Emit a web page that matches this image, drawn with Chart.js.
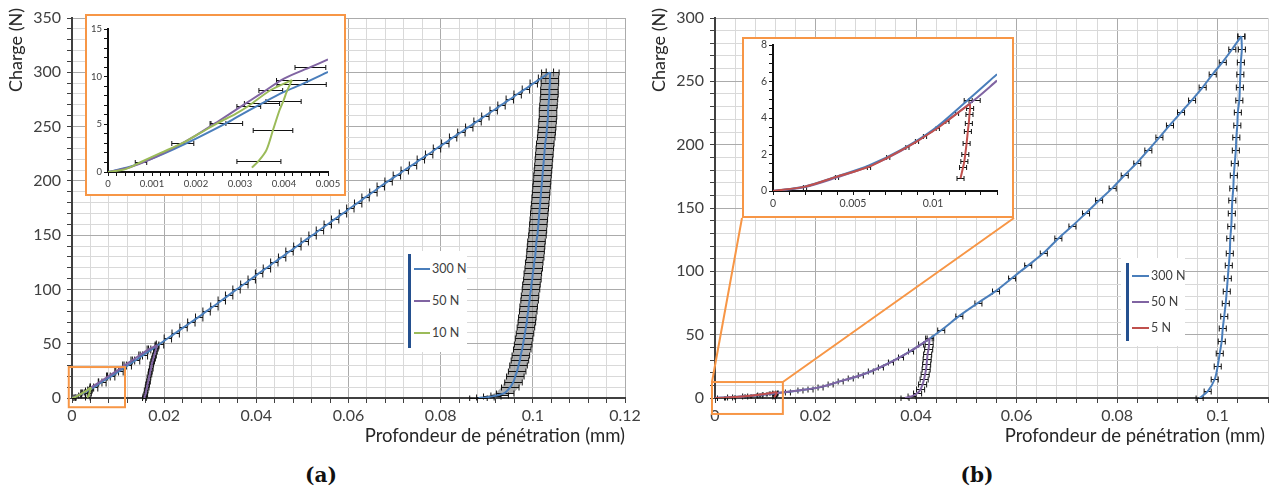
<!DOCTYPE html>
<html>
<head>
<meta charset="utf-8">
<script src="https://cdn.jsdelivr.net/npm/chart.js@4.4.1/dist/chart.umd.min.js"></script>
<style>
body { margin: 0; background: #fff; font-family: Lato, 'Open Sans', sans-serif; }
#page { position: relative; width: 1277px; height: 491px; overflow: hidden; background: #fff; }
canvas { position: absolute; }
.inset { position: absolute; background: #fff; border: 2px solid #F79646; box-sizing: border-box; }
.inset canvas { left: 0; top: 0; }
.legend { position: absolute; background: #fff; }
.legend .bar { position: absolute; width: 3px; background: #24508f; }
.legend .item { position: absolute; height: 16px; line-height: 16px; font-size: 12.5px; color: #404040; white-space: nowrap; }
.legend .sw { position: absolute; top: 7px; height: 2px; }
.ytitle { position: absolute; font-size: 18px; color: #262626; white-space: nowrap; transform: translate(-50%, -50%) rotate(-90deg); }
.xtitle { position: absolute; font-size: 18.5px; color: #262626; white-space: nowrap; }
.cap { position: absolute; font-family: 'DejaVu Serif', serif; font-weight: bold; font-size: 20px; color: #111; transform: translateX(-50%); }
</style>
</head>
<body>
<div id="page">
  <canvas id="mainA" width="640" height="460" style="left:0;top:0"></canvas>
  <canvas id="mainB" width="637" height="460" style="left:640px;top:0"></canvas>

  <div class="inset" id="insetA" style="left:85px;top:14px;width:261px;height:182px">
    <canvas id="chartInsetA" width="257" height="178"></canvas>
  </div>
  <div class="inset" id="insetB" style="left:742px;top:37px;width:272px;height:181px">
    <canvas id="chartInsetB" width="268" height="177"></canvas>
  </div>

  <div class="legend" id="legA" style="left:404px;top:251px;width:63px;height:101px"></div>
  <div class="legend" id="legB" style="left:1121px;top:258px;width:64px;height:88px"></div>

  <div class="ytitle" style="left:15px;top:50px">Charge (N)</div>
  <div class="ytitle" style="left:658px;top:50px">Charge (N)</div>
  <div class="xtitle" style="right:652px;top:424px">Profondeur de pénétration (mm)</div>
  <div class="xtitle" style="right:12px;top:424px">Profondeur de pénétration (mm)</div>
  <div class="cap" style="left:321px;top:463px">(a)</div>
  <div class="cap" style="left:977px;top:463px">(b)</div>
</div>

<script>
// ---- colours (Excel theme) ----
const blue = '#4A7EBB';
const purple = '#8064A2';
const green = '#9BBB59';
const red = '#C0504D';

// ---- (a) 300 N ----
const a300LoadX = [0,0.0027,0.0048,0.0066,0.0085,0.0103,0.0121,0.0139,0.0156,0.0174,
  0.0191,0.0208,0.0225,0.0242,0.0259,0.0276,0.0292,0.0309,0.0325,0.0341,
  0.0357,0.0374,0.0390,0.0406,0.0423,0.0439,0.0456,0.0472,0.0489,0.0505,
  0.0522,0.0538,0.0555,0.0571,0.0588,0.0604,0.0621,0.0637,0.0654,0.0670,
  0.0687,0.0705,0.0722,0.0740,0.0757,0.0775,0.0792,0.0810,0.0827,0.0845,
  0.0862,0.0880,0.0897,0.0915,0.0932,0.0950,0.0967,0.0985,0.1002,0.1020,
  0.1037];
const a300LoadY = [0,5,10,15,20,25,30,35,40,45,50,55,60,65,70,75,80,85,90,95,
  100,105,110,115,120,125,130,135,140,145,150,155,160,165,170,175,180,185,190,195,
  200,205,210,215,220,225,230,235,240,245,250,255,260,265,270,275,280,285,290,295,300];
const a300UnloadX = [0.1038,0.1037,0.1037,0.1036,0.1036,0.1035,0.1034,0.1033,0.1033,0.1032,
  0.1031,0.1030,0.1029,0.1027,0.1026,0.1025,0.1024,0.1023,0.1022,0.1021,
  0.1020,0.1019,0.1018,0.1017,0.1016,0.1015,0.1014,0.1013,0.1012,0.1011,
  0.1010,0.1008,0.1007,0.1006,0.1005,0.1003,0.1002,0.1000,0.0999,0.0997,
  0.0996,0.0994,0.0993,0.0991,0.0990,0.0988,0.0987,0.0985,0.0983,0.0981,
  0.0979,0.0977,0.0974,0.0972,0.0969,0.0966,0.0962,0.0958,0.0951,0.0940,
  0.0928,0.0912,0.0897,0.0882];
const a300UnloadY = [300,295,290,285,280,275,270,265,260,255,250,245,240,235,230,225,220,215,210,205,
  200,195,190,185,180,175,170,165,160,155,150,145,140,135,130,125,120,115,110,105,
  100,95,90,85,80,75,70,65,60,55,50,45,40,35,30,25,20,15,10,5,3,1.5,0.5,0];
const a300LoadErr = 0.0008;
const a300UnloadErr = 0.0019;

// ---- (a) 50 N ----
const a50LoadX = [0,0.0025,0.0043,0.0061,0.0079,0.0097,0.0114,0.0132,0.0149,0.0167,0.01845];
const a50LoadY = [0,5,10,15,20,25,30,35,40,45,48.8];
const a50UnloadX = [0.01845,0.0183,0.0181,0.0179,0.0177,0.0175,0.0173,0.0172,0.0170,0.0169,0.0167,0.0166,0.0164,0.0163,0.0161,0.0160,0.0158,0.0157];
const a50UnloadY = [48.8,46,43,40,37,34,31,28,25,22,19,16,13,10,7,4,2,0];
const a50Err = 0.0004;

// ---- (a) 10 N (main + inset) ----
const a10LoadX = [0,0.0004,0.00075,0.0012,0.0017,0.0021,0.0025,0.0029,0.0032,0.0037,0.00418];
const a10LoadY = [0,0.3,1.05,2.0,3.05,4.1,5.15,6.1,6.95,8.6,9.64];
const a10LoadErr = [0,0,0.00013,0,0.00025,0,0.00018,0,0.00027,0.00027,0.00035];
const a10UnloadX = [0.00418,0.00406,0.00399,0.0039,0.00375,0.0036,0.00343,0.00327];
const a10UnloadY = [9.64,8.4,7.5,6.5,4.4,2.3,1.2,0.46];
const a10UnloadErr = [0,0,0.0004,0,0.00045,0,0.0005,0];

// ---- inset (a) 300 N and 50 N ----
const ia300X = [0,0.0005,0.001,0.0015,0.002,0.0027,0.003,0.0035,0.004,0.0044,0.005];
const ia300Y = [0,0.55,1.4,2.4,3.5,5.15,5.95,7.2,8.4,9.2,10.5];
const ia300Err = [0,0,0,0,0,0.00036,0,0.0004,0,0.00056,0];
const ia50X = [0,0.0005,0.001,0.0015,0.002,0.0025,0.003,0.0035,0.004,0.0046,0.005];
const ia50Y = [0,0.5,1.4,2.55,3.85,5.3,6.8,8.3,9.8,11.0,11.8];
const ia50Err = [0,0,0,0,0,0,0,0,0,0.00035,0];

// ---- (b) 300 N ----
const b300LoadX = [0,0.006,0.012,0.017,0.021,0.025,0.029,0.033,0.037,0.041,
  0.045,0.0486,0.0524,0.0559,0.0591,0.0623,0.0654,0.0683,0.0711,0.0738,
  0.0764,0.0791,0.0815,0.084,0.0862,0.0884,0.0905,0.0927,0.0949,0.097,
  0.099,0.101,0.1029,0.1047];
const b300LoadY = [0,1.3,3.8,6.2,8.6,13.3,18.0,24.5,32.6,42.3,
  53.5,64.8,75.3,84.6,94.8,104.7,114.6,126.0,135.9,146.1,
  156.0,165.9,176.0,185.9,195.8,205.7,215.6,225.5,235.4,245.3,
  255.7,265.4,275.5,285.7];
const b300LoadErr = [0,0,0,0,0,0,0,0,0,0,
  0.0007,0.0007,0.0007,0.0007,0.0007,0.0007,0.0007,0.0007,0.0007,0.0007,
  0.0007,0.0007,0.0007,0.0007,0.0007,0.0007,0.0007,0.0007,0.0007,0.0007,
  0.0007,0.0007,0.0007,0.0007];
const b300UnloadX = [0.1047,0.1048,0.1046,0.1045,0.1044,0.1043,0.1040,0.1039,0.1037,0.1036,
  0.1034,0.1032,0.1031,0.1029,0.1028,0.1027,0.1025,0.1024,0.1022,0.1020,
  0.1018,0.1016,0.1013,0.1010,0.1008,0.1004,0.1000,0.0994,0.0980,0.0964];
const b300UnloadY = [285.7,275.3,265.4,255.7,245.3,235.4,225.5,215.6,205.7,195.8,
  185.9,176.0,165.9,156.0,146.1,135.9,126.0,114.6,104.7,94.8,
  84.6,75.3,64.8,54.9,45.0,35.2,25.3,14.8,5.2,0];
const b300UnloadErr = 0.0007;

// ---- (b) 50 N ----
const b50LoadX = [0,0.003,0.006,0.009,0.012,0.0145,0.017,0.019,0.021,0.023,0.025,0.027,0.029,0.031,0.033,0.035,0.037,0.039,0.041,0.0427];
const b50LoadY = [0,0.4,1.3,2.5,3.8,5.0,6.2,7.2,8.6,10.8,13.3,15.6,18.0,21.0,24.5,28.3,32.6,37.3,42.3,47.1];
const b50LoadErr = 0.0005;
const b50UnloadX = [0.0427,0.0426,0.0425,0.0423,0.0422,0.0421,0.0420,0.0418,0.0416,0.0413,0.0409,0.0403,0.0392,0.0378];
const b50UnloadY = [47.1,43,39,35,31,27,23,19,15,11,7,4,1.5,0];
const b50UnloadErr = 0.0008;

// ---- (b) 5 N (main + inset) ----
const b5LoadX = [0,0.002,0.004,0.006,0.0072,0.0084,0.009,0.0095,0.0103,0.0109,0.0115,0.0123];
const b5LoadY = [0,0.24,0.79,1.33,1.85,2.42,2.72,3.0,3.45,3.85,4.25,4.77];
const b5LoadErr = [0,0.0001,0.0001,0.0001,0.0001,0.0001,0.0001,0.0001,0.0001,0.0001,0.0001,0];
const b5UnloadX = [0.0123,0.01232,0.01228,0.01224,0.01218,0.0121,0.01202,0.01196,0.01188,0.01172];
const b5UnloadY = [4.77,4.57,4.2,3.74,3.29,2.61,2.03,1.64,1.3,0.7];
const b5UnloadErr = [0,0.00022,0.00022,0.00022,0.00022,0.00022,0.00022,0.00022,0.00022,0.00022];

// ---- inset (b) 300 N and 50 N ----
const ib300X = [0,0.002,0.004,0.006,0.008,0.010,0.0122,0.014];
const ib300Y = [0,0.25,0.8,1.4,2.25,3.35,5.0,6.4];
const ib300Err = [0,0,0,0,0,0,0.00025,0];
const ib50X = [0,0.002,0.004,0.006,0.008,0.010,0.0126,0.014];
const ib50Y = [0,0.22,0.75,1.35,2.2,3.3,5.0,6.05];
const ib50Err = [0,0,0,0,0,0,0.00035,0];

// legends
const legendA = ['300 N', '50 N', '10 N'];
const legendB = ['300 N', '50 N', '5 N'];

// zoomed region [xmin, xmax, ymin, ymax] in data units
const zoomBoxA = [-0.0007, 0.0115, -8.5, 28.5];
const zoomBoxB = [-0.0006, 0.0135, -12.6, 12.6];

Chart.defaults.font.family = "Lato, 'Open Sans', sans-serif";

function pts(xs, ys) {
  return xs.map((x, i) => ({ x: x, y: ys[i] }));
}

function isMult(v, step) {
  const r = v / step;
  return Math.abs(r - Math.round(r)) < 1e-6;
}

function fmt(v) {
  return String(Number(v.toFixed(4)));
}

// horizontal error bars, drawn under the lines
const errorBars = {
  id: 'errorBars',
  beforeDatasetsDraw(chart) {
    const c = chart.ctx, sx = chart.scales.x, sy = chart.scales.y, a = chart.chartArea;
    c.save();
    c.beginPath();
    c.rect(a.left, a.top - 3, a.right - a.left, a.bottom - a.top + 6);
    c.clip();
    chart.data.datasets.forEach(ds => {
      if (ds.errX === undefined) return;
      const err = i => Array.isArray(ds.errX) ? ds.errX[i] : ds.errX;
      if (ds.errFill) {
        c.beginPath();
        ds.data.forEach((p, i) => {
          const px = sx.getPixelForValue(p.x + err(i)), py = sy.getPixelForValue(p.y);
          if (i === 0) c.moveTo(px, py); else c.lineTo(px, py);
        });
        for (let i = ds.data.length - 1; i >= 0; i--) {
          const p = ds.data[i];
          c.lineTo(sx.getPixelForValue(p.x - err(i)), sy.getPixelForValue(p.y));
        }
        c.closePath();
        c.fillStyle = ds.errFill;
        c.fill();
      }
      c.strokeStyle = ds.errColor || '#111';
      c.lineWidth = 1;
      const cap = ds.errCap || 3;
      ds.data.forEach((p, i) => {
        const e = err(i);
        if (!e) return;
        const y = Math.round(sy.getPixelForValue(p.y)) + 0.5;
        const x0 = sx.getPixelForValue(p.x - e), x1 = sx.getPixelForValue(p.x + e);
        c.beginPath();
        c.moveTo(x0, y); c.lineTo(x1, y);
        c.moveTo(x0, y - cap); c.lineTo(x0, y + cap);
        c.moveTo(x1, y - cap); c.lineTo(x1, y + cap);
        c.stroke();
      });
    });
    c.restore();
  }
};

// orange zoom rectangle (+ link lines to the inset box)
const zoomBox = {
  id: 'zoomBox',
  afterDraw(chart, args, opts) {
    if (!opts.box) return;
    const c = chart.ctx, sx = chart.scales.x, sy = chart.scales.y, b = opts.box;
    const l = sx.getPixelForValue(b[0]), r = sx.getPixelForValue(b[1]);
    const t = sy.getPixelForValue(b[3]), btm = sy.getPixelForValue(b[2]);
    c.save();
    c.strokeStyle = '#F79646';
    c.lineWidth = 2;
    c.strokeRect(l, t, r - l, btm - t);
    if (opts.link) {
      const cr = chart.canvas.getBoundingClientRect();
      const er = document.getElementById(opts.link).getBoundingClientRect();
      c.beginPath();
      c.moveTo(l, t); c.lineTo(er.left - cr.left, er.bottom - cr.top);
      c.moveTo(r, t); c.lineTo(er.right - cr.left, er.bottom - cr.top);
      c.stroke();
    }
    c.restore();
  }
};

function line(xs, ys, color, order, extra) {
  return Object.assign({
    data: pts(xs, ys),
    showLine: true,
    borderColor: color,
    backgroundColor: color,
    borderWidth: 2,
    pointRadius: 0,
    tension: 0.3,
    fill: false,
    order: order
  }, extra || {});
}

function mainScales(xMax, xMinor, xMajor, yMax, yMinor, yMajor, yWidth, xHeight) {
  return {
    x: {
      type: 'linear', min: 0, max: xMax,
      afterFit: s => { s.height = xHeight; s.paddingLeft = 0; s.paddingRight = 0; },
      ticks: {
        stepSize: xMinor, autoSkip: false, maxRotation: 0, color: '#404040',
        font: { size: 16 }, padding: 3,
        callback: v => isMult(v, xMajor) ? fmt(v) : ''
      },
      grid: {
        color: c => isMult(c.tick.value, xMajor) ? '#ababab' : '#d9d9d9',
        tickColor: '#404040', tickLength: 5
      },
      border: { color: '#404040', width: 2 }
    },
    y: {
      type: 'linear', min: 0, max: yMax,
      afterFit: s => { s.width = yWidth; s.paddingTop = 0; s.paddingBottom = 0; },
      ticks: {
        stepSize: yMinor, autoSkip: false, color: '#404040',
        font: { size: 16 }, padding: 6,
        callback: v => isMult(v, yMajor) ? fmt(v) : ''
      },
      grid: {
        color: c => isMult(c.tick.value, yMajor) ? '#ababab' : '#d9d9d9',
        tickColor: '#404040', tickLength: 5
      },
      border: { color: '#404040', width: 2 }
    }
  };
}

function insetScales(xMax, xMinor, xMajor, yMax, yMinor, yMajor, yWidth, xHeight, fs) {
  return {
    x: {
      type: 'linear', min: 0, max: xMax,
      afterFit: s => { s.height = xHeight; s.paddingLeft = 0; s.paddingRight = 0; },
      ticks: {
        stepSize: xMinor, autoSkip: false, maxRotation: 0, color: '#404040',
        font: { size: fs }, padding: 2,
        callback: v => isMult(v, xMajor) ? fmt(v) : ''
      },
      grid: { drawOnChartArea: false, tickColor: '#111', tickLength: 4 },
      border: { color: '#111', width: 2 }
    },
    y: {
      type: 'linear', min: 0, max: yMax,
      afterFit: s => { s.width = yWidth; s.paddingTop = 0; s.paddingBottom = 0; },
      ticks: {
        stepSize: yMinor, autoSkip: false, color: '#404040',
        font: { size: fs }, padding: 2,
        callback: v => isMult(v, yMajor) ? fmt(v) : ''
      },
      grid: { drawOnChartArea: false, tickColor: '#111', tickLength: 4 },
      border: { color: '#111', width: 2 }
    }
  };
}

function baseOptions(padding, scales, plugExtra) {
  return {
    responsive: false,
    animation: false,
    devicePixelRatio: 1,
    layout: { padding: padding },
    plugins: Object.assign({ legend: { display: false }, tooltip: { enabled: false } }, plugExtra || {}),
    scales: scales
  };
}

// ---- main (a) ----
new Chart(document.getElementById('mainA'), {
  type: 'scatter',
  data: {
    datasets: [
      line(a10LoadX, a10LoadY, green, 0, { errX: a10LoadErr }),
      line(a10UnloadX, a10UnloadY, green, 0, { errX: a10UnloadErr }),
      line(a50LoadX, a50LoadY, purple, 1, { errX: a50Err, errCap: 4 }),
      line(a50UnloadX, a50UnloadY, purple, 1, { errX: a50Err, errFill: 'rgba(60,60,60,0.55)' }),
      line(a300LoadX, a300LoadY, blue, 2, { errX: a300LoadErr, errCap: 4 }),
      line(a300UnloadX, a300UnloadY, blue, 2, { errX: a300UnloadErr, errFill: 'rgba(130,130,130,0.65)' })
    ]
  },
  options: baseOptions({ left: 0, right: 15, top: 18, bottom: 0 },
    mainScales(0.12, 0.004, 0.02, 350, 10, 50, 72, 62),
    { zoomBox: { box: zoomBoxA } }),
  plugins: [errorBars, zoomBox]
});

// ---- main (b) ----
new Chart(document.getElementById('mainB'), {
  type: 'scatter',
  data: {
    datasets: [
      line(b5LoadX, b5LoadY, red, 0, { errX: b5LoadErr, errCap: 2 }),
      line(b5UnloadX, b5UnloadY, red, 0, { errX: b5UnloadErr, errCap: 2 }),
      line(b50LoadX, b50LoadY, purple, 1, { errX: b50LoadErr }),
      line(b50UnloadX, b50UnloadY, purple, 1, { errX: b50UnloadErr }),
      line(b300LoadX, b300LoadY, blue, 2, { errX: b300LoadErr }),
      line(b300UnloadX, b300UnloadY, blue, 2, { errX: b300UnloadErr })
    ]
  },
  options: baseOptions({ left: 0, right: 9, top: 18, bottom: 0 },
    mainScales(0.11, 0.004, 0.02, 300, 10, 50, 75, 62),
    { zoomBox: { box: zoomBoxB, link: 'insetB' } }),
  plugins: [errorBars, zoomBox]
});

// ---- inset (a) ----
new Chart(document.getElementById('chartInsetA'), {
  type: 'scatter',
  data: {
    datasets: [
      line(a10LoadX, a10LoadY, green, 0, { errX: a10LoadErr, errCap: 2.5 }),
      line(a10UnloadX, a10UnloadY, green, 0, { errX: a10UnloadErr, errCap: 2.5 }),
      line(ia50X, ia50Y, purple, 1, { errX: ia50Err, errCap: 2.5 }),
      line(ia300X, ia300Y, blue, 2, { errX: ia300Err, errCap: 2.5 })
    ]
  },
  options: baseOptions({ left: 0, right: 16, top: 13, bottom: 0 },
    insetScales(0.005, 0.0002, 0.001, 15, 1, 5, 21, 22, 9.5)),
  plugins: [errorBars]
});

// ---- inset (b) ----
new Chart(document.getElementById('chartInsetB'), {
  type: 'scatter',
  data: {
    datasets: [
      line(b5LoadX, b5LoadY, red, 0, { errX: b5LoadErr, errCap: 2.5 }),
      line(b5UnloadX, b5UnloadY, red, 0, { errX: b5UnloadErr, errCap: 2.5 }),
      line(ib300X, ib300Y, blue, 1, { errX: ib300Err, errCap: 2.5 }),
      line(ib50X, ib50Y, purple, 2, { errX: ib50Err, errCap: 2.5 })
    ]
  },
  options: baseOptions({ left: 0, right: 15, top: 6, bottom: 0 },
    insetScales(0.014, 0.001, 0.005, 8, 0.5, 2, 29, 25, 10.5)),
  plugins: [errorBars]
});

// ---- legends ----
function buildLegend(id, labels, colors, barTop, barH, rows, swLeft, swW) {
  const box = document.getElementById(id);
  const bar = document.createElement('div');
  bar.className = 'bar';
  bar.style.left = (swLeft - 6) + 'px';
  bar.style.top = barTop + 'px';
  bar.style.height = barH + 'px';
  box.appendChild(bar);
  labels.forEach((lab, i) => {
    const sw = document.createElement('div');
    sw.className = 'sw';
    sw.style.left = swLeft + 'px';
    sw.style.width = swW + 'px';
    sw.style.top = (rows[i] - 1) + 'px';
    sw.style.background = colors[i];
    box.appendChild(sw);
    const it = document.createElement('div');
    it.className = 'item';
    it.style.left = (swLeft + swW + 2) + 'px';
    it.style.top = (rows[i] - 8) + 'px';
    it.textContent = lab;
    box.appendChild(it);
  });
}
buildLegend('legA', legendA, [blue, purple, green], 3, 94, [18, 50, 82], 10, 16);
buildLegend('legB', legendB, [blue, purple, red], 5, 78, [18, 44, 70], 11, 17);
</script>
</body>
</html>
